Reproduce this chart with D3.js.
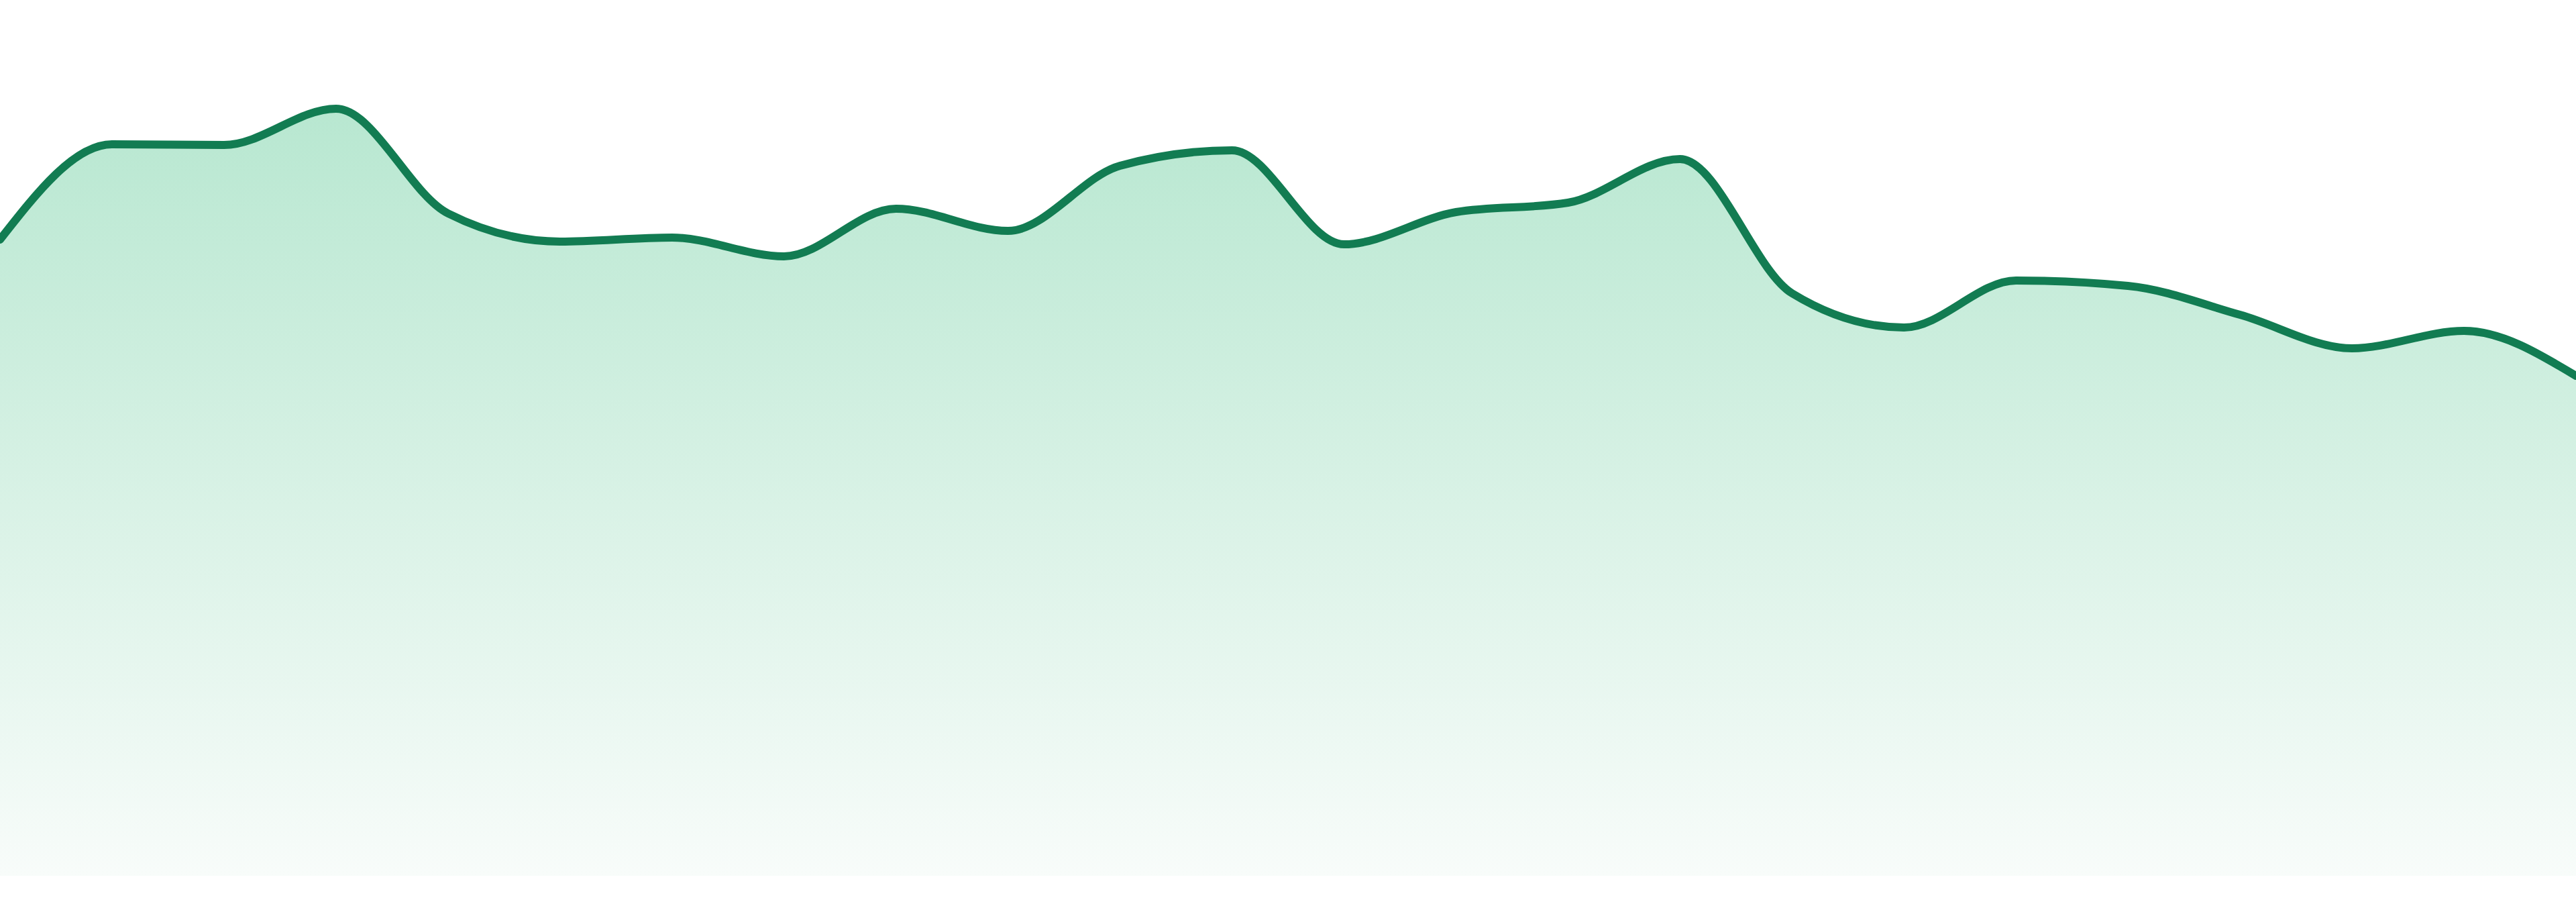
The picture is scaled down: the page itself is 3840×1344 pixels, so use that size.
<!DOCTYPE html>
<html>
<head>
<meta charset="utf-8">
<script src="https://cdn.jsdelivr.net/npm/d3@7"></script>
<style>
  html, body { margin: 0; padding: 0; background: #ffffff; overflow: hidden; }
  svg { display: block; }
</style>
</head>
<body>
<svg id="chart" width="3840" height="1344"></svg>
<script>
// Data (24 evenly spaced points)
const indices = d3.range(24);
const values = [94.8, 109.0, 108.9, 114.3, 98.7, 94.5, 95.1, 92.3, 99.4, 96.1, 105.8, 108.1,
                94.1, 98.9, 100.3, 106.8, 86.8, 81.7, 88.7, 87.9, 83.6, 78.6, 81.2, 74.5];

const W = 3840, H = 1344;
const svg = d3.select("#chart");

const x = d3.scaleLinear().domain([0, values.length - 1]).range([0, W]);
const y = d3.scaleLinear().domain([0, 120]).range([1305, 105]);

const defs = svg.append("defs");
const grad = defs.append("linearGradient")
  .attr("id", "fillGrad")
  .attr("gradientUnits", "userSpaceOnUse")
  .attr("x1", 0).attr("x2", 0)
  .attr("y1", 150).attr("y2", 1305);
grad.append("stop").attr("offset", "0%").attr("stop-color", "#b7e7d0");
grad.append("stop").attr("offset", "100%").attr("stop-color", "#f8fcfa");

const data = indices.map(i => ({ i, v: values[i] }));

const area = d3.area()
  .x(d => x(d.i))
  .y0(y(0))
  .y1(d => y(d.v))
  .curve(d3.curveMonotoneX);

const line = d3.line()
  .x(d => x(d.i))
  .y(d => y(d.v))
  .curve(d3.curveMonotoneX);

svg.append("path")
  .datum(data)
  .attr("d", area)
  .attr("fill", "url(#fillGrad)");

svg.append("path")
  .datum(data)
  .attr("d", line)
  .attr("fill", "none")
  .attr("stroke", "#127c52")
  .attr("stroke-width", 12)
  .attr("stroke-linejoin", "round")
  .attr("stroke-linecap", "round");
</script>
</body>
</html>
